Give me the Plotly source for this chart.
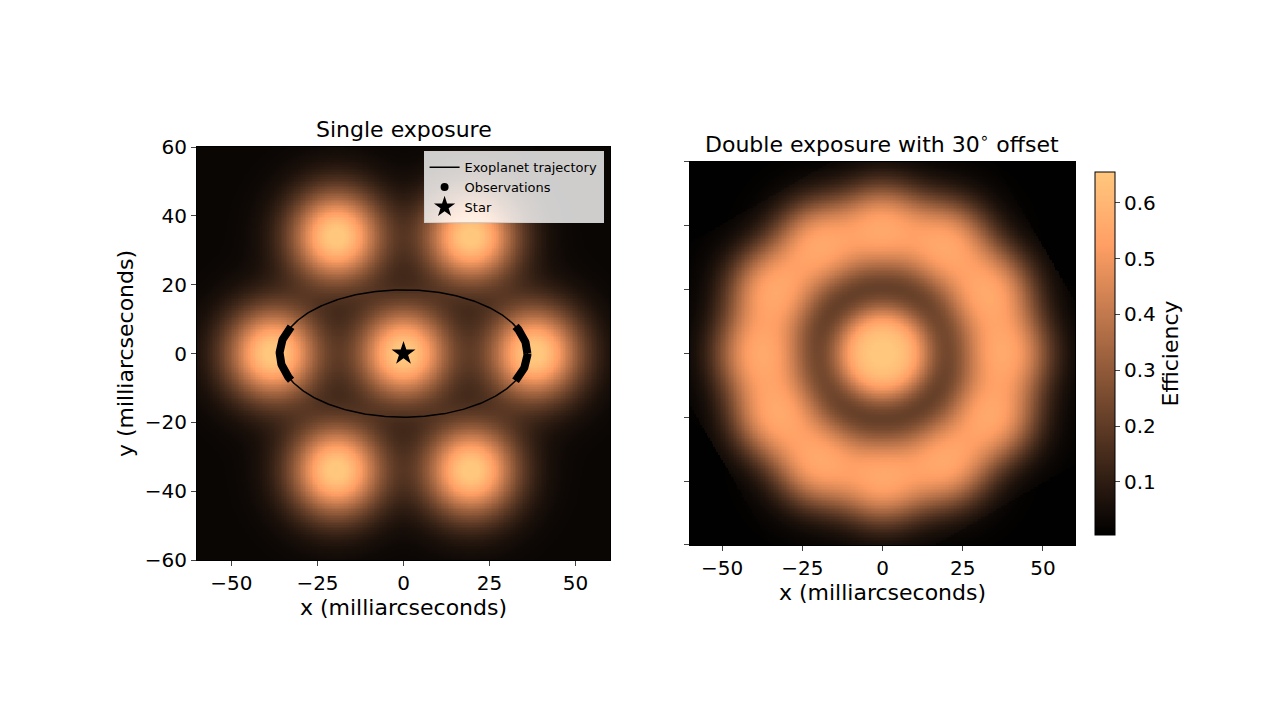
import numpy as np
import plotly.graph_objects as go

# blob centres (mas) of the single-exposure efficiency map
peak_x = [0, 38, 19.5, -19.5, -38, -19.5, 19.5]
peak_y = [0, 0, 34, 34, 0, -34, -34]
peak_amp = [0.65, 0.65, 0.65, 0.65, 0.65, 0.65, 0.65]
sigma = 9.5
sigma_double = 9.0
offset_deg = 30
# orbit
a_orb, b_orb = 36.0, 18.5
obs_ymax = 8.0

g = np.linspace(-60, 60, 241)
X, Y = np.meshgrid(g, g)

def field(Xr, Yr, s):
    Z = np.zeros_like(Xr)
    for px, py, am in zip(peak_x, peak_y, peak_amp):
        Z = Z + am * np.exp(-((Xr-px)**2 + (Yr-py)**2) / (2*s**2))
    return Z

Z1 = field(X, Y, sigma) + 0.02
t = np.deg2rad(offset_deg)
Xr = X*np.cos(t) + Y*np.sin(t)
Yr = -X*np.sin(t) + Y*np.cos(t)
inside = (np.abs(Xr) <= 60) & (np.abs(Yr) <= 60)
S = field(X, Y, sigma_double) + np.where(inside, field(Xr, Yr, sigma_double), 0)
Z2 = 0.65 * np.tanh(S / 0.65 * 0.95) / np.tanh(1.9) + 0.01
Z2 = np.clip(np.where(inside, Z2, Z2 * 0.8), 0, 0.655)

cs = [[v, 'rgb(%d,%d,%d)' % (min(255, 318.75*v), 199.2*v, 126.9*v)] for v in np.linspace(0, 1, 11)]

fig = go.Figure()
fig.add_trace(go.Heatmap(x=g, y=g, z=Z1, colorscale=cs, zmin=0, zmax=0.655, showscale=False, xaxis='x', yaxis='y'))
fig.add_trace(go.Heatmap(x=g, y=g, z=Z2, colorscale=cs, zmin=0.005, zmax=0.655, xaxis='x2', yaxis='y2',
    colorbar=dict(x=0.8414, xanchor='left', y=0.2614, yanchor='bottom', len=0.5268, lenmode='fraction', thickness=20,
                  outlinecolor='black', outlinewidth=1, ticks='outside',
                  tickvals=[0.1,0.2,0.3,0.4,0.5,0.6], tickfont=dict(size=20),
                  title=dict(text='Efficiency', side='right', font=dict(size=22)))))
th = np.linspace(0, 2*np.pi, 400)
ex, ey = a_orb*np.cos(th), b_orb*np.sin(th)
fig.add_trace(go.Scatter(x=ex, y=ey, mode='lines', line=dict(color='black', width=1.5), name='Exoplanet trajectory'))
m = np.abs(ey) < obs_ymax
fig.add_trace(go.Scatter(x=np.where(m, ex, np.nan), y=np.where(m, ey, np.nan), mode='lines',
                         line=dict(color='black', width=8), showlegend=False))
fig.add_trace(go.Scatter(x=[None], y=[None], mode='markers', marker=dict(color='black', size=8), name='Observations'))
fig.add_trace(go.Scatter(x=[0], y=[0], mode='markers', marker=dict(symbol='star', color='black', size=18), name='Star'))

ax = dict(showgrid=False, zeroline=False, ticks='outside', showline=True, linecolor='black', mirror=True,
          tickfont=dict(size=20), range=[-60, 60], automargin=False)
tf = dict(size=22)
fig.update_layout(
    width=1280, height=727, margin=dict(l=0, r=0, t=0, b=0, autoexpand=False), plot_bgcolor='white', paper_bgcolor='white',
    font=dict(family='DejaVu Sans', color='black'),
    xaxis=dict(ax, domain=[0.1477, 0.4703], anchor='y', tickvals=[-50,-25,0,25,50], ticktext=['−50','−25','0','25','50'],
               title=dict(text='x (milliarcseconds)', font=tf, standoff=3)),
    yaxis=dict(ax, domain=[0.2407, 0.8088], anchor='x', tickvals=[-60,-40,-20,0,20,40,60],
               ticktext=['−60','−40','−20','0','20','40','60'],
               title=dict(text='y (milliarcseconds)', font=tf, standoff=5)),
    xaxis2=dict(ax, domain=[0.5328, 0.8336], anchor='y2', tickvals=[-50,-25,0,25,50], ticktext=['−50','−25','0','25','50'],
                title=dict(text='x (milliarcseconds)', font=tf, standoff=3)),
    yaxis2=dict(ax, domain=[0.2614, 0.7882], anchor='x2', tickvals=[-60,-40,-20,0,20,40,60], showticklabels=False),
    legend=dict(x=0.4653, xanchor='right', y=0.803, yanchor='top', bgcolor='rgba(255,255,255,0.8)',
                bordercolor='#ccc', borderwidth=1, font=dict(size=13)),
    annotations=[
        dict(text='Single exposure', x=0.309, y=0.813, xref='paper', yref='paper', xanchor='center', yanchor='bottom', showarrow=False, font=tf),
        dict(text='Double exposure with 30<sup>∘</sup> offset', x=0.683, y=0.792, xref='paper', yref='paper', xanchor='center', yanchor='bottom', showarrow=False, font=tf),
    ])
fig.write_html('out.html')
